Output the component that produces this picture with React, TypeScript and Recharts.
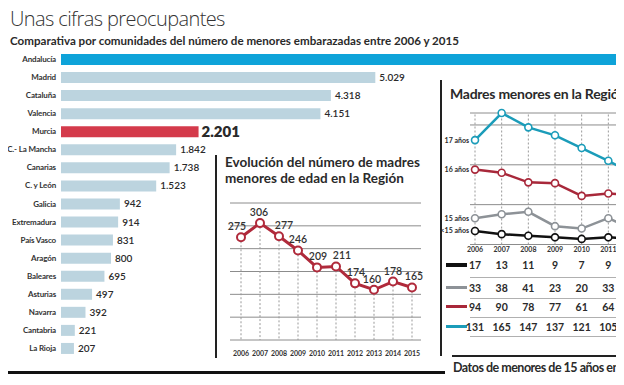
import React from "react"
import {
  BarChart,
  Bar,
  XAxis,
  YAxis,
  Cell,
  LabelList,
  LineChart,
  Line,
  CartesianGrid,
  ReferenceLine,
} from "recharts"

const regions = [
  "Andalucía",
  "Madrid",
  "Cataluña",
  "Valencia",
  "Murcia",
  "C.- La Mancha",
  "Canarias",
  "C. y León",
  "Galicia",
  "Extremadura",
  "País Vasco",
  "Aragón",
  "Baleares",
  "Asturias",
  "Navarra",
  "Cantabria",
  "La Rioja",
]
const pregnancies = [9800, 5029, 4318, 4151, 2201, 1842, 1738, 1523, 942, 914, 831, 800, 695, 497, 392, 221, 207]

const years = ["2006", "2007", "2008", "2009", "2010", "2011", "2012", "2013", "2014", "2015"]
const regionTotals = [275, 306, 277, 246, 209, 211, 174, 160, 178, 165]
const totalTicks = [50, 100, 150, 200, 250, 300, 350]

// only 2006-2011 are fully visible, 2012 is cut by the page edge
const ageYears = ["2006", "2007", "2008", "2009", "2010", "2011", "2012"]
const under15 = [17, 13, 11, 9, 7, 9, 7]
const age15 = [33, 38, 41, 23, 20, 33, 18]
const age16 = [94, 90, 78, 77, 61, 64, 62]
const age17 = [131, 165, 147, 137, 121, 105, 87]
const ageTicks = [0, 50, 100, 150]

const FONT = "Lato, 'Open Sans', sans-serif"
const TEXT = "#2a2a2a"
const GRID = "#8c8c8c"

// small sideways nudges so neighbouring value labels don't collide
const totalLabelNudge = [-4, -1, 5, 0, 1, 6, 1, -2, 0, 2]

const barData = regions.map((name, i) => ({ name, value: pregnancies[i] }))
const totalData = years.map((year, i) => ({ year, total: regionTotals[i] }))
const ageData = ageYears.map((year, i) => ({
  year,
  u15: under15[i],
  a15: age15[i],
  a16: age16[i],
  a17: age17[i],
}))

const ageSeries = [
  { key: "a17", label: "17 años", color: "#1b9cb9", values: age17, thick: 3 },
  { key: "a16", label: "16 años", color: "#a8283a", values: age16, thick: 3 },
  { key: "a15", label: "15 años", color: "#8d9297", values: age15, thick: 3 },
  { key: "u15", label: "<15 años", color: "#111111", values: under15, thick: 4 },
]
const tableOrder = ["u15", "a15", "a16", "a17"]

const fmt = (v: number) => String(v).replace(/\B(?=(\d{3})+(?!\d))/g, ".")

const barColor = (name: string) => {
  if (name === "Andalucía") return "#0ea3d9"
  if (name === "Murcia") return "#d43a4b"
  return "#bcd4df"
}

const RegionTick = (props: any) => {
  const { x, y, payload } = props
  return (
    <text
      x={x}
      y={y + 3}
      textAnchor="end"
      fontSize={8}
      fontWeight={700}
      letterSpacing={-0.15}
      fill="#333"
      fontFamily={FONT}
    >
      {payload.value}
    </text>
  )
}

const BarValue = (props: any) => {
  const { x, y, width, height, value, index } = props
  if (index === 0) return null
  const big = regions[index] === "Murcia"
  return (
    <text
      x={x + width + (big ? 3 : 4)}
      y={y + height / 2 + (big ? 5 : 3.5)}
      fontSize={big ? 15 : 10}
      fontWeight={big ? 800 : 600}
      fill={TEXT}
      fontFamily={FONT}
    >
      {fmt(value)}
    </text>
  )
}

const TotalLabel = (props: any) => {
  const { x, y, value, index } = props
  return (
    <text
      x={x + totalLabelNudge[index]}
      y={y - 7}
      textAnchor="middle"
      fontSize={10.5}
      fontWeight={600}
      fill="#333"
      fontFamily={FONT}
    >
      {value}
    </text>
  )
}

const makeSeriesLabel = (label: string) => (props: any) => {
  const { x, y, index } = props
  if (index !== 0) return null
  return (
    <text x={x - 6} y={y + 2.5} textAnchor="end" fontSize={7} fontWeight={700} fill={TEXT} fontFamily={FONT}>
      {label}
    </text>
  )
}

// right chart geometry, shared with the table under it
const R_LEFT = 440
const R_TOP = 100
const R_MARGIN_LEFT = 30
const R_PAD_LEFT = 5
const R_WIDTH = 195
const colX = (i: number) =>
  R_LEFT + R_MARGIN_LEFT + R_PAD_LEFT + (i * (R_WIDTH - R_MARGIN_LEFT - R_PAD_LEFT)) / (ageYears.length - 1)

export default function App() {
  return (
    <div
      style={{
        position: "relative",
        margin: -8,
        width: 624,
        height: 385,
        overflow: "hidden",
        background: "#fff",
        fontFamily: FONT,
        color: TEXT,
      }}
    >
      <div
        style={{
          position: "absolute",
          left: 10,
          top: 5,
          fontSize: 20,
          fontWeight: 300,
          fontFamily: "'Open Sans', sans-serif",
          letterSpacing: -0.6,
          color: "#333",
          whiteSpace: "nowrap",
        }}
      >
        Unas cifras preocupantes
      </div>
      <div
        style={{ position: "absolute", left: 10, top: 34, fontSize: 11.6, fontWeight: 700, whiteSpace: "nowrap" }}
      >
        Comparativa por comunidades del número de menores embarazadas entre 2006 y 2015
      </div>

      <div style={{ position: "absolute", left: 0, top: 0 }}>
        <BarChart
          width={686}
          height={370}
          data={barData}
          layout="vertical"
          margin={{ top: 50, right: 0, bottom: 13, left: 0 }}
        >
          <XAxis type="number" domain={[0, 10000]} hide />
          <YAxis
            type="category"
            dataKey="name"
            width={61}
            interval={0}
            tickLine={false}
            axisLine={false}
            tickSize={0}
            tickMargin={5}
            tick={<RegionTick />}
          />
          <Bar dataKey="value" barSize={11} isAnimationActive={false}>
            {barData.map((d) => (
              <Cell key={d.name} fill={barColor(d.name)} />
            ))}
            <LabelList dataKey="value" content={BarValue} />
          </Bar>
        </BarChart>
      </div>

      {/* divider lines */}
      <div style={{ position: "absolute", left: 215, top: 155, width: 2, height: 203, background: "#222" }} />
      <div style={{ position: "absolute", left: 440, top: 80, width: 2, height: 276, background: "#222" }} />
      <div style={{ position: "absolute", left: 7, top: 371, width: 438, height: 3, background: "#111" }} />
      <div style={{ position: "absolute", left: 452, top: 355, width: 180, height: 1.5, background: "#222" }} />

      <div
        style={{
          position: "absolute",
          left: 225,
          top: 154,
          fontSize: 13.5,
          fontWeight: 700,
          lineHeight: "16px",
          whiteSpace: "nowrap",
        }}
      >
        Evolución del número de madres
        <br />
        menores de edad en la Región
      </div>

      <div style={{ position: "absolute", left: 216, top: 190.5 }}>
        <LineChart width={215} height={175} data={totalData} margin={{ top: 12, right: 10, bottom: 0, left: 14 }}>
          <CartesianGrid vertical={false} stroke={GRID} />
          <XAxis
            dataKey="year"
            interval={0}
            axisLine={false}
            tickLine={false}
            tickSize={0}
            tickMargin={11}
            height={26}
            padding={{ left: 11, right: 9 }}
            tick={{ fontSize: 7, fontWeight: 700, fill: "#333", fontFamily: FONT }}
          />
          <YAxis hide domain={[50, 350]} ticks={totalTicks} interval={0} />
          {totalData.map((d) => (
            <ReferenceLine
              key={d.year}
              segment={[
                { x: d.year, y: d.total },
                { x: d.year, y: totalTicks[0] },
              ]}
              stroke="#999"
              strokeDasharray="2 2"
            />
          ))}
          <Line
            dataKey="total"
            stroke="#b02a3b"
            strokeWidth={3}
            dot={{ r: 4, fill: "#fff", stroke: "#b02a3b", strokeWidth: 2 }}
            isAnimationActive={false}
          >
            <LabelList dataKey="total" content={TotalLabel} />
          </Line>
        </LineChart>
      </div>

      <div
        style={{
          position: "absolute",
          left: 450,
          top: 85,
          fontSize: 14,
          fontWeight: 700,
          letterSpacing: -0.25,
          whiteSpace: "nowrap",
        }}
      >
        Madres menores en la Región
      </div>

      <div style={{ position: "absolute", left: R_LEFT, top: R_TOP + 0.5 }}>
        <LineChart
          width={R_WIDTH}
          height={160}
          data={ageData}
          margin={{ top: 12, right: 0, bottom: 0, left: R_MARGIN_LEFT }}
        >
          <CartesianGrid vertical={false} stroke={GRID} />
          <XAxis
            dataKey="year"
            interval={0}
            axisLine={false}
            tickLine={false}
            tickSize={0}
            tickMargin={3}
            height={16.5}
            padding={{ left: R_PAD_LEFT, right: 0 }}
            tick={{ fontSize: 7, fontWeight: 700, fill: "#333", fontFamily: FONT }}
          />
          <YAxis hide domain={[0, 165]} ticks={ageTicks} interval={0} />
          {ageYears.map((y) => (
            <ReferenceLine key={y} x={y} stroke="#999" strokeDasharray="2 2" />
          ))}
          {ageSeries.map((s) => (
            <Line
              key={s.key}
              dataKey={s.key}
              stroke={s.color}
              strokeWidth={2.5}
              dot={{ r: 3.5, fill: "#fff", stroke: s.color, strokeWidth: 1.6 }}
              isAnimationActive={false}
            >
              <LabelList dataKey={s.key} content={makeSeriesLabel(s.label)} />
            </Line>
          ))}
        </LineChart>
      </div>

      {/* data table under the right chart */}
      {tableOrder.map((key, row) => {
        const s = ageSeries.find((a) => a.key === key)!
        const rowY = [265, 287.5, 306.5, 326.5][row]
        return (
          <React.Fragment key={key}>
            <div
              style={{
                position: "absolute",
                left: 446,
                top: rowY - s.thick / 2,
                width: 21,
                height: s.thick,
                background: s.color,
              }}
            />
            {ageYears.slice(0, 6).map((y, i) => (
              <div
                key={y}
                style={{
                  position: "absolute",
                  left: colX(i) - 15,
                  width: 30,
                  top: rowY - 7,
                  textAlign: "center",
                  fontSize: 10.5,
                  fontWeight: 700,
                  lineHeight: "14px",
                }}
              >
                {s.values[i]}
              </div>
            ))}
            <div
              style={{
                position: "absolute",
                left: 470,
                top: [276.5, 297.5, 316.5, 335.5][row],
                width: 160,
                height: 1,
                background: "#b0b0b0",
              }}
            />
          </React.Fragment>
        )
      })}

      <div
        style={{
          position: "absolute",
          left: 453,
          top: 360,
          fontSize: 12.5,
          fontWeight: 700,
          letterSpacing: -0.5,
          whiteSpace: "nowrap",
        }}
      >
        Datos de menores de 15 años en la Región
      </div>
    </div>
  )
}
